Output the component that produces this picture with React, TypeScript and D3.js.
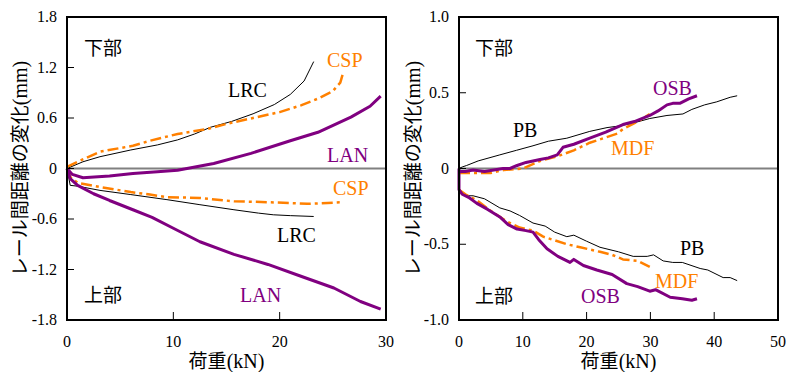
import React from "react";
import * as d3 from "d3";

type Pt = [number, number];

// ---------- Left panel data (荷重 kN, 変化 mm) ----------
const LRC_LOWER: Pt[] = [[0,0],[1.5,0.08],[3.1,0.14],[6,0.22],[8.5,0.28],[10.4,0.34],[12,0.41],[13.5,0.49],[15.5,0.56],[17.5,0.65],[19.5,0.76],[21,0.88],[22.3,1.04],[23.2,1.27]];
const CSP_LOWER: Pt[] = [[0,0.02],[1,0.08],[3.1,0.2],[6.2,0.27],[7.8,0.33],[10.4,0.41],[13.2,0.47],[15,0.53],[17.5,0.6],[20,0.67],[22,0.75],[23.6,0.83],[25,0.92],[25.7,1.02],[26,1.15]];
const LAN_LOWER: Pt[] = [[0,0],[0.5,-0.07],[1.5,-0.11],[4,-0.09],[6.2,-0.06],[8.5,-0.04],[10.4,-0.02],[13.8,0.06],[17.3,0.18],[21,0.33],[23.6,0.43],[26.7,0.61],[28.5,0.74],[29.5,0.86]];
const CSP_UPPER: Pt[] = [[0,0],[0.3,-0.1],[1,-0.17],[3.1,-0.22],[6,-0.28],[7.8,-0.31],[9.4,-0.34],[12.5,-0.35],[15.7,-0.39],[18.9,-0.4],[22.6,-0.42],[24.5,-0.41],[26,-0.4]];
const LRC_UPPER: Pt[] = [[0,0],[0.3,-0.2],[1,-0.21],[3.1,-0.26],[6,-0.31],[9.4,-0.37],[12.5,-0.43],[15.7,-0.49],[18,-0.53],[19.4,-0.55],[21,-0.56],[23.2,-0.57]];
const LAN_UPPER: Pt[] = [[0,0],[0.3,-0.12],[1,-0.2],[2.5,-0.3],[4,-0.38],[6.2,-0.49],[8,-0.58],[10,-0.71],[12.5,-0.87],[15.7,-1.02],[18.9,-1.14],[22,-1.28],[25.1,-1.42],[27.6,-1.58],[29.5,-1.67]];

// ---------- Right panel data ----------
const PB_LOWER: Pt[] = [[0,0],[0.5,0.01],[1.2,0.02],[3,0.05],[6.4,0.09],[9,0.12],[11.6,0.15],[14,0.18],[16.9,0.2],[20.5,0.245],[23.2,0.27],[25,0.28],[27.3,0.3],[29.9,0.33],[32.6,0.35],[35.1,0.36],[36.5,0.39],[38.5,0.42],[40.4,0.44],[42.5,0.47],[43.6,0.48]];
const OSB_LOWER: Pt[] = [[0,-0.02],[1,-0.02],[2.2,-0.01],[4,-0.02],[6.9,0.0],[8,0.0],[9.1,0.02],[10.5,0.04],[12.7,0.06],[14,0.07],[15.4,0.09],[16.3,0.14],[18,0.16],[20.5,0.2],[23,0.24],[25.7,0.29],[27.5,0.31],[29.9,0.35],[31.2,0.38],[32.6,0.42],[33.5,0.43],[34.6,0.43],[36,0.46],[37.3,0.48]];
const MDF_LOWER: Pt[] = [[0,-0.03],[2,-0.03],[4.9,-0.03],[7,-0.01],[10,0.0],[12.7,0.05],[15.4,0.08],[18,0.12],[20.5,0.17],[24.8,0.23],[25.7,0.26],[28,0.31],[29.9,0.36]];
const OSB_UPPER: Pt[] = [[0,0],[0,-0.14],[0.5,-0.17],[1.5,-0.19],[2.8,-0.23],[4.5,-0.27],[6.4,-0.32],[7.7,-0.37],[9.1,-0.4],[10.5,-0.41],[11.6,-0.42],[12.5,-0.47],[13.8,-0.53],[15.5,-0.58],[17.4,-0.62],[18,-0.6],[19.5,-0.64],[21.6,-0.67],[24,-0.7],[26.3,-0.76],[28,-0.78],[29.9,-0.81],[30.8,-0.8],[33.1,-0.85],[35,-0.86],[36.5,-0.87],[37.3,-0.86]];
const MDF_UPPER: Pt[] = [[0,-0.14],[1,-0.17],[2.8,-0.21],[5,-0.28],[7.5,-0.35],[9.5,-0.39],[11.6,-0.41],[13.2,-0.45],[16.9,-0.5],[19,-0.52],[22.1,-0.55],[24,-0.57],[25.7,-0.6],[28,-0.61],[29.9,-0.65]];
const PB_UPPER: Pt[] = [[0,-0.13],[0.5,-0.16],[1.5,-0.18],[2.2,-0.18],[4,-0.2],[6.4,-0.26],[8,-0.28],[9.5,-0.31],[11.6,-0.36],[13.5,-0.38],[15,-0.42],[16.9,-0.45],[18,-0.44],[20,-0.48],[22.1,-0.52],[25,-0.55],[27.3,-0.58],[29.5,-0.58],[30.5,-0.57],[32,-0.61],[33.5,-0.62],[35,-0.62],[37.8,-0.66],[39,-0.67],[41.4,-0.72],[42.5,-0.72],[43.6,-0.74]];

// ---------- Ticks ----------
const LEFT_Y_TICKS = [1.8, 1.2, 0.6, 0, -0.6, -1.2, -1.8];
const LEFT_Y_LABELS = ["1.8", "1.2", "0.6", "0", "-0.6", "-1.2", "-1.8"];
const LEFT_X_TICKS = [0, 10, 20, 30];
const RIGHT_Y_TICKS = [1, 0.5, 0, -0.5, -1];
const RIGHT_Y_LABELS = ["1.0", "0.5", "0", "-0.5", "-1.0"];
const RIGHT_X_TICKS = [0, 10, 20, 30, 40, 50];

const Y_TITLE_JA = "レール間距離の変化";
const Y_TITLE_UNIT = "(mm)";
const X_TITLE_JA = "荷重";
const X_TITLE_UNIT = "(kN)";

const BLACK = "#000000";
const ORANGE = "#FF8000";
const PURPLE = "#800080";

type Series = { data: Pt[]; color: string; width: number; dash?: string };
type Label = { text: string; x: number; y: number; color: string; ja?: boolean };

type PanelProps = {
  xDomain: [number, number];
  yDomain: [number, number];
  xRange: [number, number];
  yRange: [number, number];
  yTicks: number[];
  yLabels: string[];
  xTicks: number[];
  series: Series[];
  labels: Label[];
  yTitleX: number;
};

const DASHDOT = "11,4,3,4";

function Panel(p: PanelProps) {
  const x = d3.scaleLinear().domain(p.xDomain).range(p.xRange);
  const y = d3.scaleLinear().domain(p.yDomain).range(p.yRange);
  const line = d3.line<Pt>().x((d) => x(d[0])).y((d) => y(d[1]));
  const [x0, x1] = p.xRange;
  const [yb, yt] = p.yRange;
  const cx = (x0 + x1) / 2;
  const cy = (yb + yt) / 2;
  return (
    <g>
      <line x1={x0} x2={x1} y1={y(0)} y2={y(0)} stroke="#808080" strokeWidth={2} />
      {p.series.map((s, i) => (
        <path key={i} d={line(s.data) || ""} fill="none" stroke={s.color} strokeWidth={s.width}
          strokeDasharray={s.dash} strokeLinejoin="round" />
      ))}
      {p.yTicks.map((t, i) => (
        <g key={"y" + i}>
          <line x1={x0} x2={x0 + 7} y1={y(t)} y2={y(t)} stroke={BLACK} strokeWidth={1} />
          <text x={x0 - 10} y={y(t) + 5} textAnchor="end" fontFamily="serif" fontSize={16} fill={BLACK}>
            {p.yLabels[i]}
          </text>
        </g>
      ))}
      {p.xTicks.map((t, i) => (
        <g key={"x" + i}>
          <line x1={x(t)} x2={x(t)} y1={yb} y2={yb - 8} stroke={BLACK} strokeWidth={1} />
          <text x={x(t)} y={yb + 27} textAnchor="middle" fontFamily="Times New Roman" fontSize={16} fill={BLACK}>
            {String(t)}
          </text>
        </g>
      ))}
      <rect x={x0} y={yt} width={x1 - x0} height={yb - yt} fill="none" stroke={BLACK} strokeWidth={2} />
      {p.labels.map((l, i) => (
        <text key={"l" + i} x={l.x} y={l.y} fill={l.color}
          fontFamily={l.ja ? "Noto Sans CJK JP" : "Tinos"} fontSize={l.ja ? 19 : 20}>
          {l.text}
        </text>
      ))}
      <text x={cx} y={368} textAnchor="middle" fill={BLACK} fontFamily="Liberation Serif" fontSize={20}>
        <tspan fontFamily="Noto Sans CJK JP" fontSize={19}>{X_TITLE_JA}</tspan>
        <tspan fontFamily="Liberation Serif" fontSize={20}>{X_TITLE_UNIT}</tspan>
      </text>
      <text transform={`translate(${p.yTitleX},${cy}) rotate(-90)`} textAnchor="middle" fill={BLACK}
        fontFamily="Liberation Serif" fontSize={20}>
        <tspan fontFamily="Noto Sans CJK JP" fontSize={19}>{Y_TITLE_JA}</tspan>
        <tspan fontFamily="Liberation Serif" fontSize={20}>{Y_TITLE_UNIT}</tspan>
      </text>
    </g>
  );
}

export default function App() {
  return (
    <div style={{ position: "absolute", left: 0, top: 0 }}>
      <svg width={788} height={372} fontFamily="Liberation Serif" style={{ display: "block", background: "#fff" }}>
        <Panel
          xDomain={[0, 30]}
          yDomain={[-1.8, 1.8]}
          xRange={[67, 386]}
          yRange={[320, 17]}
          yTicks={LEFT_Y_TICKS}
          yLabels={LEFT_Y_LABELS}
          xTicks={LEFT_X_TICKS}
          yTitleX={27}
          series={[
            { data: LRC_LOWER, color: BLACK, width: 1 },
            { data: LRC_UPPER, color: BLACK, width: 1 },
            { data: CSP_LOWER, color: ORANGE, width: 2.5, dash: DASHDOT },
            { data: CSP_UPPER, color: ORANGE, width: 2.5, dash: DASHDOT },
            { data: LAN_LOWER, color: PURPLE, width: 3 },
            { data: LAN_UPPER, color: PURPLE, width: 3 },
          ]}
          labels={[
            { text: "下部", x: 84, y: 55, color: BLACK, ja: true },
            { text: "CSP", x: 327, y: 67, color: ORANGE },
            { text: "LRC", x: 228, y: 97, color: BLACK },
            { text: "LAN", x: 327, y: 162, color: PURPLE },
            { text: "CSP", x: 333, y: 195, color: ORANGE },
            { text: "LRC", x: 277, y: 242, color: BLACK },
            { text: "上部", x: 84, y: 302, color: BLACK, ja: true },
            { text: "LAN", x: 240, y: 302, color: PURPLE },
          ]}
        />
        <Panel
          xDomain={[0, 50]}
          yDomain={[-1, 1]}
          xRange={[459, 778]}
          yRange={[320, 17]}
          yTicks={RIGHT_Y_TICKS}
          yLabels={RIGHT_Y_LABELS}
          xTicks={RIGHT_X_TICKS}
          yTitleX={420}
          series={[
            { data: PB_LOWER, color: BLACK, width: 1 },
            { data: PB_UPPER, color: BLACK, width: 1 },
            { data: MDF_LOWER, color: ORANGE, width: 2.5, dash: DASHDOT },
            { data: MDF_UPPER, color: ORANGE, width: 2.5, dash: DASHDOT },
            { data: OSB_LOWER, color: PURPLE, width: 3 },
            { data: OSB_UPPER, color: PURPLE, width: 3 },
          ]}
          labels={[
            { text: "下部", x: 475, y: 55, color: BLACK, ja: true },
            { text: "OSB", x: 653, y: 95, color: PURPLE },
            { text: "PB", x: 513, y: 137, color: BLACK },
            { text: "MDF", x: 611, y: 155, color: ORANGE },
            { text: "PB", x: 680, y: 255, color: BLACK },
            { text: "MDF", x: 655, y: 288, color: ORANGE },
            { text: "上部", x: 475, y: 303, color: BLACK, ja: true },
            { text: "OSB", x: 581, y: 303, color: PURPLE },
          ]}
        />
      </svg>
    </div>
  );
}
